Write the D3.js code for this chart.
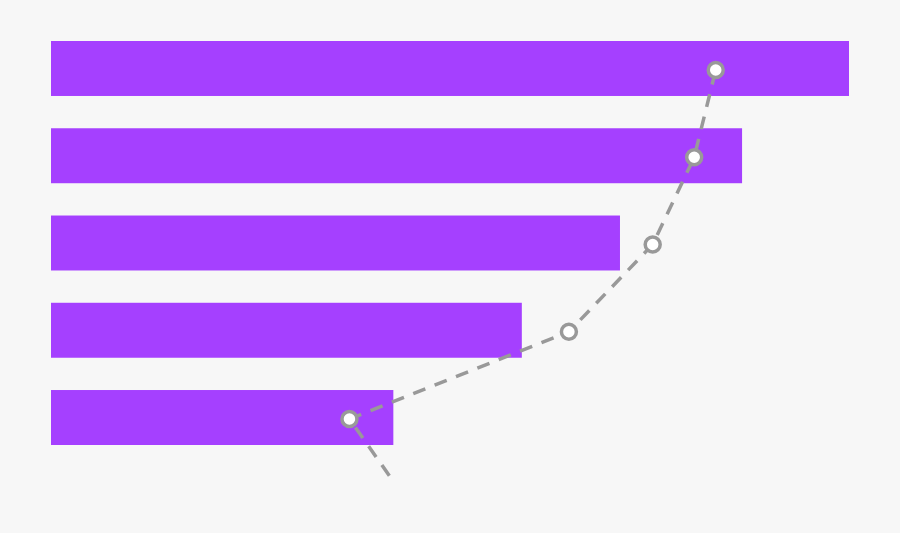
<!DOCTYPE html>
<html>
<head>
<meta charset="utf-8">
<script src="https://cdn.jsdelivr.net/npm/d3@7"></script>
<style>
  html, body { margin: 0; padding: 0; background: #f7f7f7; }
  svg { display: block; }
</style>
</head>
<body>
<svg id="chart"></svg>
<script>
// bar data (value scale 0-100)
const categories = ['A', 'B', 'C', 'D', 'E'];
const barValues = [100, 86.6, 71.3, 59.0, 42.9];

// dashed trend line: value and row position (last point is the tail without a marker)
const lineValues = [83.3, 80.6, 75.4, 64.9, 37.4, 42.4];
const linePos = [0, 1, 2, 3, 4, 4.65];
const markerCount = 5;

const width = 900, height = 533;
const margin = { top: 41, right: 51, bottom: 88, left: 51 };

const svg = d3.select('#chart')
  .attr('width', width)
  .attr('height', height);

svg.append('rect')
  .attr('width', width)
  .attr('height', height)
  .attr('fill', '#f7f7f7');

const x = d3.scaleLinear()
  .domain([0, 100])
  .range([margin.left, width - margin.right]);

const y = d3.scaleBand()
  .domain(categories)
  .range([margin.top, height - margin.bottom])
  .paddingInner(0.37)
  .paddingOuter(0);

// row index -> centre of the band (line sits a touch below centre)
const yPos = d3.scaleLinear()
  .domain([0, categories.length - 1])
  .range([y(categories[0]) + y.bandwidth() / 2 + 1.5, y(categories[categories.length - 1]) + y.bandwidth() / 2 + 1.5]);

// bars
svg.selectAll('.bar')
  .data(barValues)
  .enter()
  .append('rect')
  .attr('class', 'bar')
  .attr('x', x(0))
  .attr('y', (d, i) => y(categories[i]))
  .attr('width', d => x(d) - x(0))
  .attr('height', y.bandwidth())
  .attr('fill', '#a540ff');

// dashed line
const pts = lineValues.map((v, i) => [x(v), yPos(linePos[i])]);

const path = svg.append('path')
  .datum(pts)
  .attr('d', d3.line())
  .attr('fill', 'none')
  .attr('stroke', '#999')
  .attr('stroke-width', 3.5)
  .attr('stroke-dasharray', '13,10');

// align the pattern so the tail ends on a full dash
const total = path.node().getTotalLength();
path.attr('stroke-dashoffset', 13 - (total % 23));

// markers
svg.selectAll('.dot')
  .data(pts.slice(0, markerCount))
  .enter()
  .append('circle')
  .attr('class', 'dot')
  .attr('cx', d => d[0])
  .attr('cy', d => d[1])
  .attr('r', 7.5)
  .attr('fill', '#fff')
  .attr('stroke', '#999')
  .attr('stroke-width', 3.5);
</script>
</body>
</html>
